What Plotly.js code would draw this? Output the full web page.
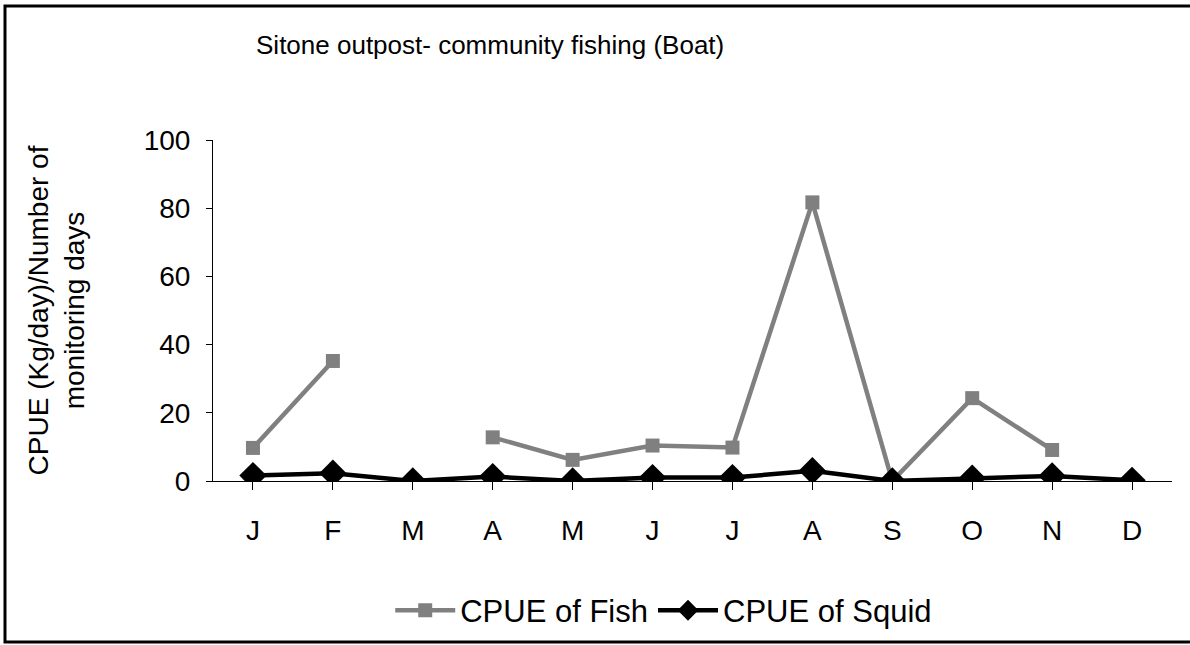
<!DOCTYPE html>
<html>
<head>
<meta charset="utf-8">
<script src="https://cdn.plot.ly/plotly-3.0.1.min.js"></script>
<style>html,body{margin:0;padding:0;background:#fff;}#chart{width:1190px;height:645px;}</style>
</head>
<body>
<div id="chart"></div>
<script>
const months = ["J","F","M","A","M","J","J","A","S","O","N","D"];
const monthIdx = [0,1,2,3,4,5,6,7,8,9,10,11];
const fishCPUE = [9.7, 35.2, null, 12.8, 6.2, 10.4, 9.8, 81.7, 0, 24.3, 9.1, null];
const squidCPUE = [1.6, 2.3, 0, 1.3, 0, 1.0, 1.0, 3.0, 0, 0.8, 1.5, 0.2];
const yTicks = [0, 20, 40, 60, 80, 100];

const font = "Liberation Sans, Arial, sans-serif";

const traces = [
  {
    x: monthIdx, y: fishCPUE, name: "CPUE of Fish", type: "scatter", mode: "lines+markers",
    connectgaps: false,
    line: {color: "#808080", width: 4.5},
    marker: {symbol: "square", size: 14, color: "#808080"}
  },
  {
    x: monthIdx, y: squidCPUE, name: "CPUE of Squid", type: "scatter", mode: "lines+markers",
    line: {color: "#000000", width: 4.5},
    marker: {symbol: "diamond", size: 21, color: "#000000"}
  }
];

const layout = {
  width: 1190, height: 645,
  paper_bgcolor: "#ffffff", plot_bgcolor: "#ffffff",
  margin: {l: 213, r: 18, t: 140, b: 164, autoexpand: false},
  font: {family: font, color: "#000", size: 28},
  title: {text: "Sitone outpost- community fishing (Boat)", font: {family: font, size: 26, color: "#000"},
          x: 0.289, xref: "paper", xanchor: "center", y: 0.93, yref: "container", yanchor: "middle"},
  showlegend: true,
  legend: {orientation: "h", x: 0.47, xanchor: "center", y: -0.38, yanchor: "middle",
           font: {family: font, size: 31, color: "#000"}, itemwidth: 60, tracegroupgap: 0},
  xaxis: {
    range: [-0.5, 11.5], tickmode: "array", tickvals: monthIdx, ticktext: months,
    showgrid: false, zeroline: false, showline: true, linecolor: "#000", linewidth: 1,
    ticks: "outside", ticklen: 8, tickcolor: "#000", tickson: "boundaries",
    tickfont: {family: font, size: 28, color: "#000"}, ticklabelstandoff: 16
  },
  yaxis: {
    range: [0, 100], tickmode: "array", tickvals: yTicks,
    showgrid: false, zeroline: false, showline: true, linecolor: "#000", linewidth: 1,
    ticks: "outside", ticklen: 6, tickcolor: "#000",
    tickfont: {family: font, size: 28, color: "#000"}, ticklabelstandoff: 10,
    title: {text: "CPUE (Kg/day)/Number of<br>monitoring days", font: {family: font, size: 28, color: "#000"}, standoff: 50}
  },
  shapes: [
    {type: "rect", xref: "paper", yref: "paper", x0: -0.2169, x1: 1.05, y0: -0.472, y1: 1.393,
     line: {color: "#000", width: 3}, fillcolor: "rgba(0,0,0,0)"}
  ]
};

Plotly.newPlot("chart", traces, layout, {displayModeBar: false, staticPlot: true});
</script>
</body>
</html>
